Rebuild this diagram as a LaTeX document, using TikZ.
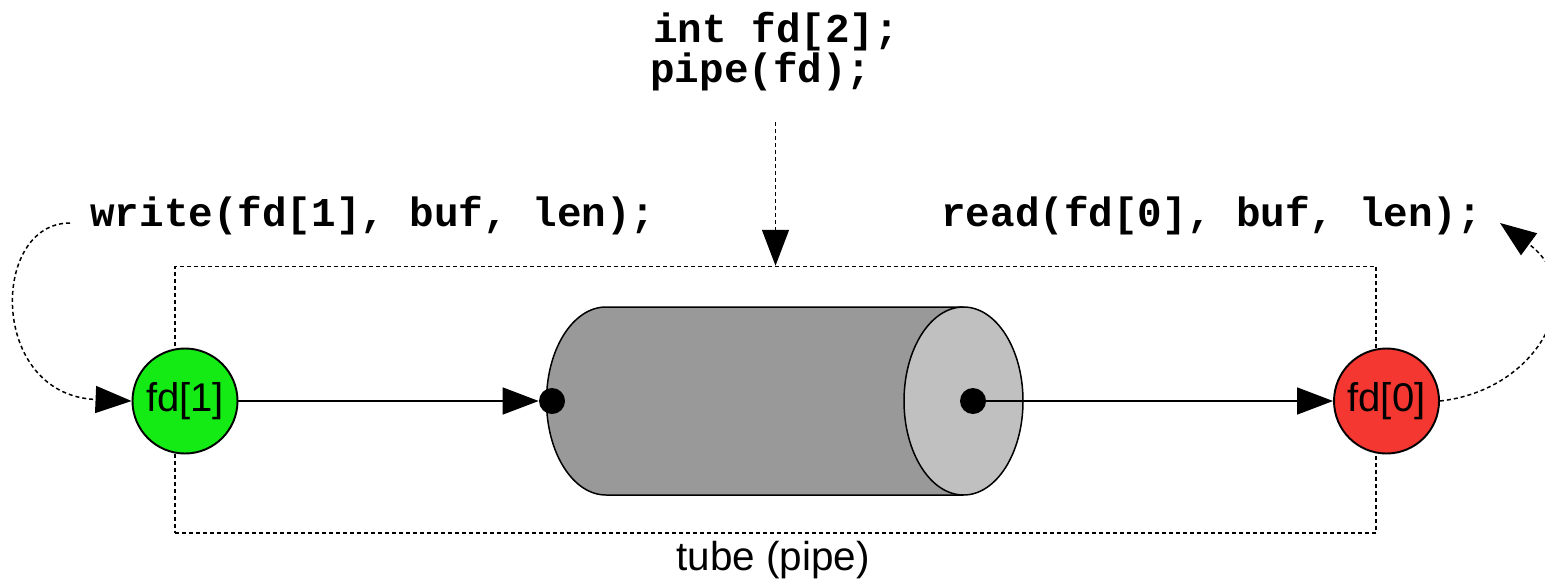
\documentclass[tikz,border=0pt]{standalone}
\usepackage{fontspec}
\setmainfont{Liberation Sans}
\newfontfamily\codefont{Liberation Mono}
\usetikzlibrary{arrows.meta}
\definecolor{fdgreen}{RGB}{20,235,20}
\definecolor{fdred}{RGB}{245,55,50}
\definecolor{cylbody}{RGB}{153,153,153}
\definecolor{cylend}{RGB}{192,192,192}
\tikzset{
  codetext/.style={inner sep=0pt, anchor=base west, font=\codefont\bfseries\fontsize{23.3}{28}\selectfont},
  fdnode/.style={circle, draw=black, line width=1.1pt, minimum size=2.1cm, inner sep=0pt, font=\fontsize{22.8}{27}\selectfont},
  dotted line/.style={line width=0.85pt, dash pattern=on 0.08cm off 0.06cm},
  bigtip/.style={-{Triangle[length=0.72cm, width=0.54cm]}},
  conn/.style={line width=0.85pt, bigtip},
  blackdot/.style={circle, fill=black, minimum size=0.52cm, inner sep=0pt},
}
\begin{document}
\begin{tikzpicture}
\useasboundingbox (0,0) rectangle (30.9,11.68);

% tube rectangle
\node[draw, dotted line, minimum width=24.02cm, minimum height=5.33cm, inner sep=0pt] (tube) at (15.51,3.685) {};
\node[inner sep=0pt, anchor=base, font=\fontsize{23}{27}\selectfont] (tubelabel) at (15.46,0.28) {tube (pipe)};

% cylinder
\fill[cylbody] (19.27,5.54) -- (12.12,5.54) arc[start angle=90, end angle=270, x radius=1.19cm, y radius=1.88cm] -- (19.27,1.78) -- cycle;
\draw[line width=0.85pt] (19.27,5.54) -- (12.12,5.54) arc[start angle=90, end angle=270, x radius=1.19cm, y radius=1.88cm] -- (19.27,1.78);
\draw[line width=0.85pt, fill=cylend] (19.27,3.66) ellipse[x radius=1.19cm, y radius=1.88cm];

\node[blackdot] (ldot) at (11.04,3.66) {};
\node[blackdot] (rdot) at (19.46,3.66) {};

% fd nodes
\node[fdnode, fill=fdgreen] (fd1) at (3.70,3.66) {fd[1]};
\node[fdnode, fill=fdred] (fd0) at (27.73,3.66) {fd[0]};

% code texts
\node[codetext] (intfd) at (13.06,10.84) {int fd[2];};
\node[codetext] (pipefd) at (13.00,10.04) {pipe(fd);};
\node[codetext] (write) at (1.80,7.16) {write(fd[1], buf, len);};
\node[codetext] (read) at (18.82,7.16) {read(fd[0], buf, len);};

\coordinate (pipestart) at (15.51,9.24);
\coordinate (wstart) at (1.40,7.22);
\coordinate (rend) at (30.0,7.22);

% connectors
\draw[conn] (fd1) -- (ldot);
\draw[conn] (rdot) -- (fd0);
\draw[dotted line, bigtip] (pipestart) -- (tube.north);
\draw[dotted line, bigtip] (wstart) .. controls +(-1.6,0) and +(-2.86,0.12) .. (fd1.west);
\draw[dotted line, bigtip] (fd0.east) .. controls +(2.0,0.22) and +(1.8,-1.32) .. (rend);
\end{tikzpicture}
\end{document}
